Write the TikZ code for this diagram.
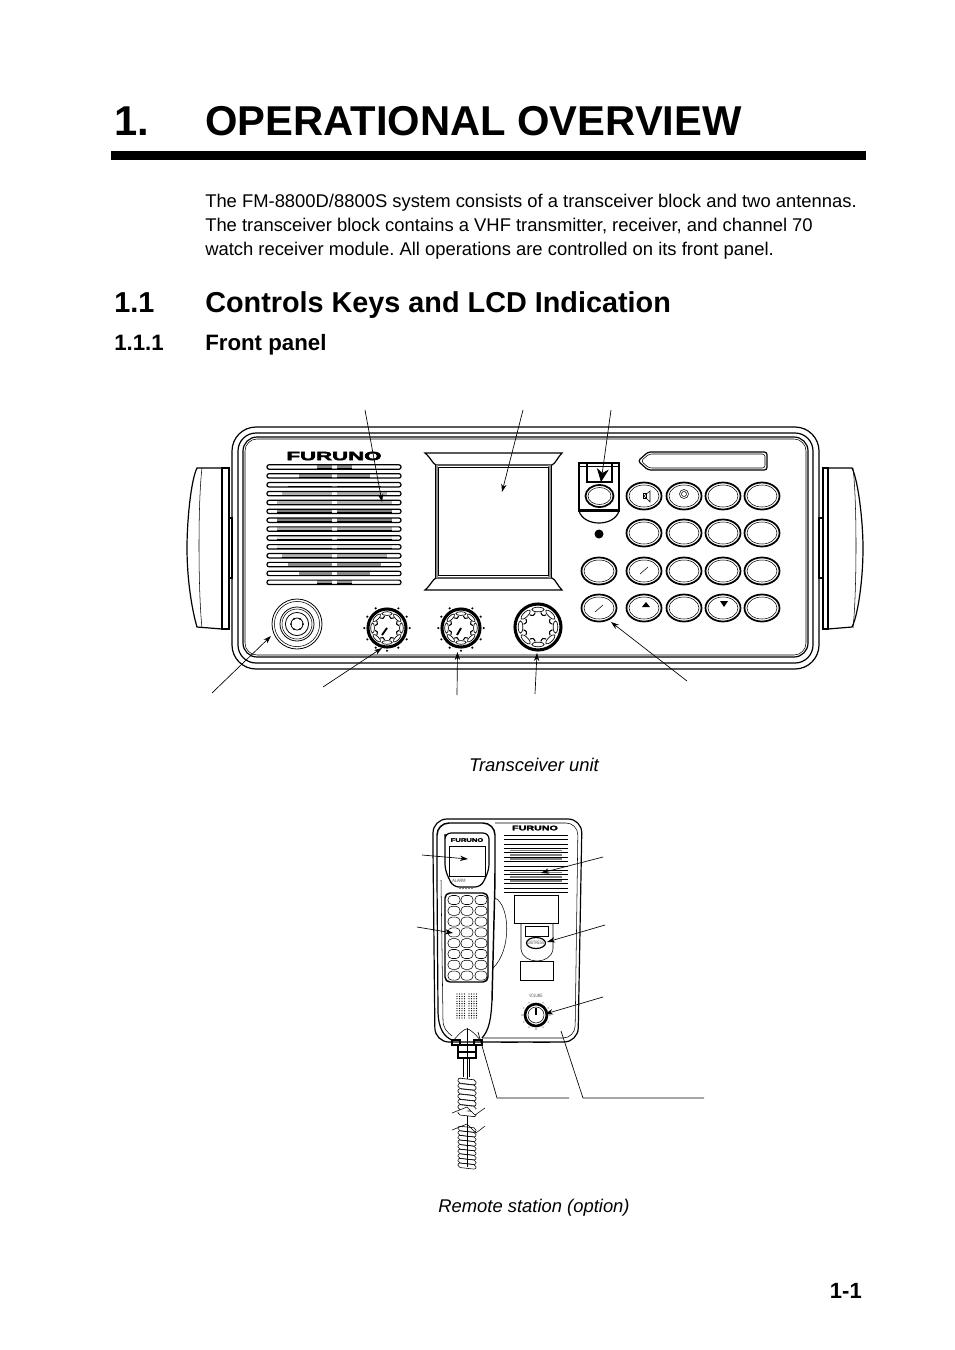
\documentclass[tikz,border=0pt]{standalone}
\usepackage{fontspec}
\setmainfont{Liberation Sans}
\newfontfamily\brandfont[FakeBold=3]{Liberation Sans Bold}
\usetikzlibrary{arrows.meta}
\frenchspacing
\tikzset{
  part/.style={line width=0.9pt},
  thinpart/.style={line width=0.4pt},
  callout/.style={line width=0.5pt,-{Stealth[length=6pt,width=4pt]}},
  leader/.style={line width=0.5pt},
  txt/.style={inner sep=0pt,anchor=base west},
  panelkey/.style={line width=1.3pt},
  ringline/.style={line width=0.6pt},
  coil/.style={line width=0.45pt,fill=white,rounded corners=1.5pt},
  tiny/.style={inner sep=0pt,font=\fontsize{3.6pt}{4pt}\selectfont,text=gray!60!black},
}
% round knob with eight scallops: x, y, radius
\newcommand{\dialknob}[3]{
  \begin{scope}[shift={(#1,#2)}]
    \draw[line width=2.3pt] (0,0) circle (#3);
    \foreach \a in {0,45,...,315} {
      \draw[line width=0.5pt,fill=white,rotate=\a] (0:0.76*#3) ellipse (0.1*#3 and 0.27*#3);
      \draw[line width=0.8pt] (\a+11:0.64*#3) .. controls (\a+20:0.52*#3) and (\a+25:0.52*#3) .. (\a+34:0.64*#3);
    }
  \end{scope}
}
% dots round a knob
\newcommand{\dialdots}[4]{
  \foreach \a in {-60,-30,...,240}
    \fill (#1,#2) ++(\a:#3) circle (#4);
}
\begin{document}
\begin{tikzpicture}[x=0.75pt,y=-0.75pt]
  \useasboundingbox (0,0) rectangle (954,1350);
  \fill[white] (0,0) rectangle (954,1350);
  % page text
  \node[txt,font=\fontsize{31.3pt}{36pt}\selectfont\bfseries] (chapnum) at (114,135) {1.};
  \node[txt,font=\fontsize{31.3pt}{36pt}\selectfont\bfseries] (chaptitle) at (205,135) {OPERATIONAL OVERVIEW};
  \fill (111,151) rectangle (866,160);
  \node[txt,font=\fontsize{13.8pt}{18pt}\selectfont] (introa) at (205,207) {The FM-8800D/8800S system consists of a transceiver block and two antennas.};
  \node[txt,font=\fontsize{13.8pt}{18pt}\selectfont] (introb) at (205,231) {The transceiver block contains a VHF transmitter, receiver, and channel 70};
  \node[txt,font=\fontsize{13.8pt}{18pt}\selectfont] (introc) at (205,255) {watch receiver module. All operations are controlled on its front panel.};
  \node[txt,font=\fontsize{21.6pt}{24pt}\selectfont\bfseries] (secnum) at (114,312) {1.1};
  \node[txt,font=\fontsize{21.6pt}{24pt}\selectfont\bfseries] (sectitle) at (205,312) {Controls Keys and LCD Indication};
  \node[txt,font=\fontsize{16.7pt}{18pt}\selectfont\bfseries] (subnum) at (114,350) {1.1.1};
  \node[txt,font=\fontsize{16.7pt}{18pt}\selectfont\bfseries] (subtitle) at (205,350) {Front panel};
  \node[inner sep=0pt,anchor=base,font=\fontsize{13.8pt}{18pt}\selectfont\itshape] (capa) at (534,771) {Transceiver unit};
  \node[inner sep=0pt,anchor=base,font=\fontsize{13.8pt}{18pt}\selectfont\itshape] (capb) at (534,1212) {Remote station (option)};
  \node[inner sep=0pt,anchor=base east,font=\fontsize{16.5pt}{18pt}\selectfont\bfseries] (pagenum) at (862,1298) {1-1};

  % transceiver body
  \draw[part,rounded corners=24*0.75pt] (232,427) rectangle (819,669);
  \draw[part,rounded corners=18*0.75pt] (238,433) rectangle (813,663);
  \draw[part,rounded corners=14*0.75pt] (243,437) rectangle (808,657);
  \draw[thinpart,rounded corners=12*0.75pt] (245,439) rectangle (806,655);
  % handles
  \draw[part] (222,468) -- (197,468) .. controls (191,480) and (187,520) .. (187,548) .. controls (187,580) and (192,610) .. (197,627) -- (222,629);
  \draw[part] (222,468) rectangle (229,629);
  \draw[thinpart] (202,468) .. controls (198,500) and (198,590) .. (202,628);
  \draw[part] (229,518) rectangle (232,578);
  \draw[part] (823,468) rectangle (828,629);
  \draw[part] (828,468) -- (852,468) .. controls (858,480) and (863,520) .. (863,548) .. controls (863,580) and (858,615) .. (852,627) -- (828,629);
  \draw[thinpart] (853,468) .. controls (857,500) and (857,590) .. (853,628);
  \draw[part] (819,518) rectangle (823,578);
  % brand
  \node[inner sep=0pt,font=\fontsize{9pt}{9pt}\selectfont\brandfont,xscale=1.85] (brand) at (334,456) {FURUNO};
  % speaker slots
  \foreach \r/\w/\s in {0/15/45,1/33/40,2/44/0,3/50/30,4/55/30,5/55/50,6/55/50,7/55/30,8/55/10,9/55/10,10/50/30,11/44/45,12/33/45,13/15/40} {
    \fill[black!\s] (332-\w,467+8.87*\r-2.2) rectangle (332,467+8.87*\r+2.2);
    \fill[black!\s] (337,467+8.87*\r-2.2) rectangle (337+\w,467+8.87*\r+2.2);
    \draw[ringline] (332-\w,467+8.87*\r+1.5) -- (332,467+8.87*\r+1.5);
    \draw[ringline] (337,467+8.87*\r+1.5) -- (337+\w,467+8.87*\r+1.5);
    \draw[part,rounded corners=1.5pt] (267,467+8.87*\r-2.2) rectangle (401,467+8.87*\r+2.2);
  }
  % display
  \draw[part] (425,453) -- (562,453) .. controls (557,458) and (556,463) .. (552,465) -- (436,465) .. controls (432,463) and (431,458) .. cycle;
  \draw[part] (425,590) -- (562,590) .. controls (557,585) and (556,580) .. (552,578) -- (436,578) .. controls (432,580) and (431,585) .. cycle;
  \fill[black!45] (435,465) rectangle (438,578);
  \fill[black!45] (548,465) rectangle (551,578);
  \draw[ringline] (435,465) -- (435,578);
  \draw[ringline] (551,465) -- (551,578);
  \draw[ringline] (438,467) rectangle (548,575);
  % distress hatch
  \draw[line width=1.3pt] (579,463) rectangle (619,511);
  \draw[line width=1.3pt] (587,463) -- (587,482) -- (612,482) -- (612,463);
  \draw[thinpart] (579,509) -- (619,509);
  \draw[thinpart] (579,466) -- (619,466);
  \draw[part] (579,511) .. controls (584,527) and (614,527) .. (619,511);
  \draw[panelkey] (599.5,496) ellipse (14 and 11);
  \draw[thinpart] (599.5,496) ellipse (11.5 and 8.5);
  \fill (599,534) circle (4.5);
  % name plate
  \draw[part,rounded corners=2pt] (638,461) -- (648,452) -- (767,452) -- (767,470) -- (648,470) -- cycle;
  \draw[thinpart,rounded corners=2pt] (641,461) -- (649,454) -- (765,454) -- (765,468) -- (649,468) -- cycle;
  % keys
  \foreach \kx in {644,684,723,762}
    \foreach \ky in {496,533,571,608} {
      \draw[panelkey] (\kx,\ky) ellipse (17.5 and 13.5);
      \draw[thinpart] (\kx,\ky) ellipse (15 and 11);
    }
  \foreach \ky in {571,608} {
    \draw[panelkey] (599,\ky) ellipse (17.5 and 13.5);
    \draw[thinpart] (599,\ky) ellipse (15 and 11);
  }
  % key marks
  \draw[thinpart] (644,496) -- (650,491) -- (650,502) -- cycle;
  \draw[thinpart] (643,493.5) rectangle (646,498.5);
  \draw[thinpart] (684,494) circle (4.5);
  \draw[thinpart] (684,494) circle (2.5);
  \draw[thinpart] (640,574) -- (648,567);
  \draw[thinpart] (595,612) -- (603,605);
  \fill (646,602) -- (642,607) -- (650,607) -- cycle;
  \fill (724,607) -- (720,601) -- (728,601) -- cycle;
  % lower controls
  \draw[ringline] (297,624) circle (25);
  \draw[thinpart] (297,624) circle (22.6);
  \draw[ringline] (297,624) circle (17);
  \draw[thinpart] (297,624) circle (15);
  \draw[ringline] (297,624) circle (11.6);
  \draw[ringline] (297,624) circle (6);
  \foreach \a in {0,60,...,300}
    \fill (297,624) ++(\a:6) circle (1);
  \dialknob{387}{628}{19}
  \dialdots{387}{628}{22.7}{1.2}
  \draw[line width=1.4pt] (382,635) -- (387,628);
  \dialknob{461}{628}{19}
  \dialdots{461}{628}{22.7}{1.2}
  \draw[line width=1.4pt] (457,635) -- (461,628);
  \dialknob{538}{627}{23}

  % transceiver call-outs
  \coordinate (spkfrom) at (365,410);
  \coordinate (spkto) at (382,502);
  \coordinate (lcdfrom) at (523,410);
  \coordinate (lcdto) at (502,492);
  \coordinate (hatchfrom) at (611,410);
  \coordinate (hatchto) at (601,482);
  \coordinate (sockfrom) at (212,693);
  \coordinate (sockto) at (271,636);
  \coordinate (volfrom) at (323,687);
  \coordinate (volto) at (382,648);
  \coordinate (sqlfrom) at (457,695);
  \coordinate (sqlto) at (457.5,652);
  \coordinate (chfrom) at (535,694);
  \coordinate (chto) at (537,653);
  \coordinate (keyfrom) at (687,681);
  \coordinate (keyto) at (611,622);
  \draw[callout] (spkfrom) -- (spkto);
  \draw[callout] (lcdfrom) -- (lcdto);
  \draw[line width=0.5pt,-{Stealth[length=10pt,width=9pt]}] (hatchfrom) -- (hatchto);
  \draw[callout] (sockfrom) -- (sockto);
  \draw[callout] (volfrom) -- (volto);
  \draw[callout] (sqlfrom) -- (sqlto);
  \draw[callout] (chfrom) -- (chto);
  \draw[callout] (keyfrom) -- (keyto);

  % remote station base
  \draw[part,rounded corners=14*0.75pt] (433,850) -- (433,819) -- (582,819) -- (578,1042) -- (435,1042) -- cycle;
  \draw[thinpart,rounded corners=12*0.75pt] (495,823) -- (578,823) -- (575,1038) -- (482,1038);
  \draw[line width=1pt] (501,1042.5) -- (518,1042.5);
  \draw[line width=1pt] (533,1042.5) -- (550,1042.5);
  \node[inner sep=0pt,font=\fontsize{5pt}{5pt}\selectfont\brandfont,xscale=1.6] (basebrand) at (535,828) {FURUNO};
  \foreach \r in {0,1,...,13}
    \draw[thinpart] (504,835+4.4*\r) -- (568,835+4.4*\r);
  \foreach \r in {3,4,5,8,9,10}
    \draw[gray,line width=1.2pt] (510,835+4.4*\r+2.2) -- (562,835+4.4*\r+2.2);
  \draw[thinpart] (514,895) rectangle (558,923);
  \draw[thinpart] (521,923) -- (521,949) .. controls (523,965) and (551,965) .. (553,949) -- (553,923);
  \draw[thinpart] (525,926) rectangle (548,936);
  \draw[thinpart] (520,961) rectangle (553,980);
  \draw[part] (536,943) ellipse (9.5 and 5.5);
  \node[tiny,xscale=0.7] (distresslbl) at (536,943) {DISTRESS};
  \node[tiny,xscale=0.65] (volumelbl) at (536,996) {VOLUME};
  \draw[line width=2pt] (536,1015) circle (11);
  \draw[thinpart] (536,1015) circle (8);
  \draw[line width=0.8pt] (536,1015) -- (536,1008);
  \dialdots{536}{1015}{14}{0.6}

  % handset
  \draw[line width=1.1pt,fill=white,rounded corners=12*0.75pt] (437,880) -- (437,823) -- (495,823) -- (495,880) -- (492,1000);
  \draw[part] (437,880) -- (438,1010) .. controls (438,1030) and (445,1037) .. (452,1040);
  \draw[part] (492,1000) .. controls (491,1020) and (489,1030) .. (482,1038);
  \draw[thinpart] (441,880) -- (443,1020) .. controls (443,1028) and (447,1032) .. (452,1036);
  \draw[part,rounded corners=6*0.75pt] (445,840) -- (445,833) -- (489,833) -- (489,870) -- (481,887) -- (453,887) -- (445,870) -- cycle;
  \node[inner sep=0pt,font=\fontsize{3.8pt}{4pt}\selectfont\brandfont,xscale=1.5] (setbrand) at (467,840) {FURUNO};
  \draw[thinpart] (449,846) rectangle (485,876);
  \fill (450.7,882) circle (0.8);
  \node[tiny,xscale=0.8] (alarmlbl) at (459,881) {ALARM};
  \foreach \dx in {460,463,466,469,472}
    \fill (\dx,888.5) circle (0.6);
  \draw[line width=1.1pt,rounded corners=5*0.75pt] (445,893) rectangle (488,982);
  \foreach \kx in {454,467,481}
    \foreach \r in {0,1,...,7}
      \draw[thinpart,rounded corners=3pt] (\kx-6,900+10.8*\r-4.5) rectangle (\kx+6,900+10.8*\r+4.5);
  \foreach \dx in {457,459.5,462,464.5,469,471.5,474,476.5}
    \foreach \r in {0,1,...,10}
      \fill (\dx,994+2.4*\r) circle (0.65);
  % hook
  \draw[thinpart] (495,898) .. controls (510,905) and (512,950) .. (493,968);
  % plug and cord
  \draw[thinpart,rounded corners=2pt] (452,1042) -- (460,1033) -- (467,1028) -- (474,1033) -- (482,1042);
  \draw[part] (452,1040) rectangle (460,1045);
  \draw[part] (474,1040) rectangle (482,1045);
  \draw[part] (458,1045) rectangle (476,1052);
  \draw[part] (458,1052) rectangle (476,1058);
  \draw[thinpart] (463,1058) -- (463,1077);
  \draw[thinpart] (469,1058) -- (469,1077);
  \draw[thinpart] (467,1028) -- (467,1167);
  \foreach \r in {0,1,...,6}
    \draw[coil] (458,1078+5.3*\r) -- (476,1080+5.3*\r) -- (476,1085+5.3*\r) -- (458,1083+5.3*\r) -- cycle;
  \foreach \r in {0,1,...,8}
    \draw[thinpart,rounded corners=1.5pt] (458,1126+4.6*\r) -- (476,1128+4.6*\r) -- (476,1132.5+4.6*\r) -- (458,1130.5+4.6*\r) -- cycle;
  \draw[thinpart,fill=white] (452,1113) -- (467,1107) -- (475,1115) -- (485,1108);
  \draw[thinpart] (452,1130) -- (467,1124) -- (476,1133) -- (485,1126);

  % remote station call-outs
  \coordinate (setlcdfrom) at (422,855);
  \coordinate (setlcdto) at (468,859);
  \coordinate (setkeyfrom) at (417,927);
  \coordinate (setkeyto) at (453,933);
  \coordinate (basespkfrom) at (603,857);
  \coordinate (basespkto) at (541,873);
  \coordinate (basekeyfrom) at (605,925);
  \coordinate (basekeyto) at (547,942);
  \coordinate (basevolfrom) at (603,997);
  \coordinate (basevolto) at (545,1014);
  \coordinate (setleada) at (478,1032);
  \coordinate (setleadb) at (497,1098);
  \coordinate (setleadc) at (569,1098);
  \coordinate (baseleada) at (561,1031);
  \coordinate (baseleadb) at (583,1098);
  \coordinate (baseleadc) at (704,1098);
  \draw[callout] (setlcdfrom) -- (setlcdto);
  \draw[callout] (setkeyfrom) -- (setkeyto);
  \draw[callout] (basespkfrom) -- (basespkto);
  \draw[callout] (basekeyfrom) -- (basekeyto);
  \draw[callout] (basevolfrom) -- (basevolto);
  \draw[leader] (setleada) -- (setleadb) -- (setleadc);
  \draw[leader] (baseleada) -- (baseleadb) -- (baseleadc);
\end{tikzpicture}
\end{document}
